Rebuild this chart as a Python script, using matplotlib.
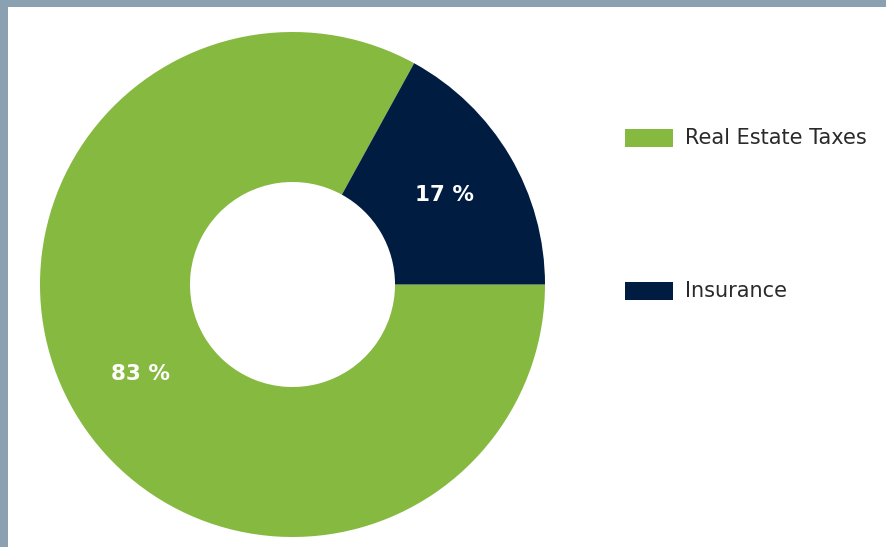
import matplotlib
matplotlib.use("Agg")
import matplotlib.pyplot as plt
from matplotlib.patches import Rectangle

categories = ["Real Estate Taxes", "Insurance"]
shares = [83, 17]
colors = ["#86B93F", "#001C41"]
frame_color = "#8AA1B2"

W, H = 887, 547
fig = plt.figure(figsize=(W / 100, H / 100), dpi=100)
fig.patch.set_facecolor(frame_color)

# white panel inside the frame (frame on top and left only)
fig.patches.append(Rectangle((8 / W, -0.01), 1.0, 1.01 - 7 / H,
                             transform=fig.transFigure, facecolor="white",
                             edgecolor="none", zorder=-5))

# donut
cx, cy, r = 292.5, 284.5, 252.5
ax = fig.add_axes([(cx - r) / W, (H - cy - r) / H, 2 * r / W, 2 * r / H])
ax.set_zorder(1)
ax.set_aspect("equal")
wedges, texts, autotexts = ax.pie(
    shares, colors=colors, startangle=0, counterclock=False,
    radius=1.0, pctdistance=0.70,
    autopct=lambda p: f"{p:.0f} %",
    wedgeprops=dict(width=0.594, linewidth=0),
    textprops=dict(color="white", fontsize=15.5, fontweight="bold",
                   family="DejaVu Sans"),
)
ax.set_xlim(-1, 1); ax.set_ylim(-1, 1)
ax.axis("off")

# legend
legend_y = [138, 291]
for label, col, y in zip(categories, colors, legend_y):
    fig.patches.append(Rectangle((625 / W, (H - y - 9) / H), 48 / W, 18 / H,
                                 transform=fig.transFigure, facecolor=col,
                                 edgecolor="none"))
    fig.text(685 / W, (H - y) / H, label, ha="left", va="center",
             fontsize=15, color="#2A2A2A", family="DejaVu Sans")

fig.savefig("out.png", dpi=100, facecolor=fig.get_facecolor())
